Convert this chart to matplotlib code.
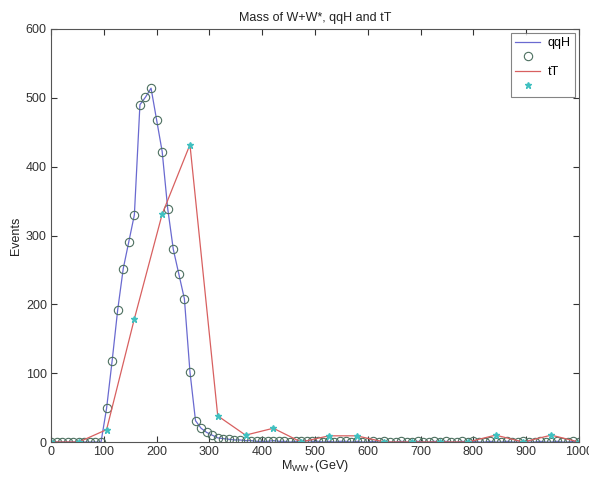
import numpy as np
import matplotlib
matplotlib.use('Agg')
import matplotlib.pyplot as plt

plt.rcParams['font.family'] = ['Liberation Sans', 'DejaVu Sans']
plt.rcParams['mathtext.fontset'] = 'custom'
plt.rcParams['mathtext.rm'] = 'Liberation Sans'
plt.rcParams['mathtext.it'] = 'Liberation Sans'

# qqH histogram (96 bins over 0-1000 GeV)
mass_qqH = np.linspace(0, 1000, 96)
events_qqH = [0, 0, 0, 0, 0, 0, 0, 0, 0, 0,
              49, 118, 192, 252, 291, 330, 490, 501, 514, 468,
              422, 339, 280, 244, 208, 102, 31, 20, 14, 10,
              6, 5, 4, 3, 3, 2, 2, 1, 1, 1,
              2, 1, 1, 0, 1, 1, 2, 1, 1, 0,
              1, 0, 1, 1, 0, 1, 0, 0, 1, 0,
              1, 0, 0, 1, 0, 0, 1, 0, 0, 1,
              0, 1, 0, 0, 1, 0, 1, 0, 0, 1,
              0, 0, 1, 0, 0, 1, 0, 0, 1, 0,
              0, 1, 0, 0, 1, 0]

# tT histogram (20 bins over 0-1000 GeV)
mass_tT = np.linspace(0, 1000, 20)
events_tT = [0, 0, 18, 179, 331, 432, 38, 10, 20, 0,
             9, 9, 0, 0, 0, 0, 10, 0, 10, 0]

fig = plt.figure(figsize=(5.89, 4.79), dpi=100)
ax = fig.add_axes([0.0866, 0.0772, 0.8964, 0.8623])

l1, = ax.plot(mass_qqH, events_qqH, color='#6a6ad0', lw=0.9)
l2, = ax.plot(mass_qqH, events_qqH, 'o', mfc='none', mec='#4d7060', ms=6, mew=0.8)
l3, = ax.plot(mass_tT, events_tT, color='#d86060', lw=0.9)
l4, = ax.plot(mass_tT, events_tT, '*', color='#40c0c0', ms=5)

ax.set_xlim(0, 1000)
ax.set_ylim(0, 600)
ax.set_xticks(range(0, 1001, 100))
ax.set_yticks(range(0, 601, 100))
ax.tick_params(direction='in', top=True, right=True, length=4,
               labelsize=9, colors='#333333', pad=3)
for s in ax.spines.values():
    s.set_color('#555555')
    s.set_linewidth(0.8)

ax.set_title('Mass of W+W*, qqH and tT', fontsize=9, color='#222222', pad=6)
ax.set_xlabel(r'M$_{\mathrm{WW*}}$(GeV)', fontsize=9, color='#222222', labelpad=0)
ax.set_ylabel('Events', fontsize=9, color='#222222', labelpad=3)

leg = ax.legend([l1, l2, l3, l4], ['qqH', '', 'tT', ''], loc='upper right',
                fontsize=9, frameon=True, fancybox=False, edgecolor='#666666',
                borderaxespad=0.3, borderpad=0.35, handlelength=2.0,
                labelspacing=0.2, handletextpad=0.6)
leg.get_frame().set_linewidth(0.8)

fig.savefig('out.png', dpi=100)
